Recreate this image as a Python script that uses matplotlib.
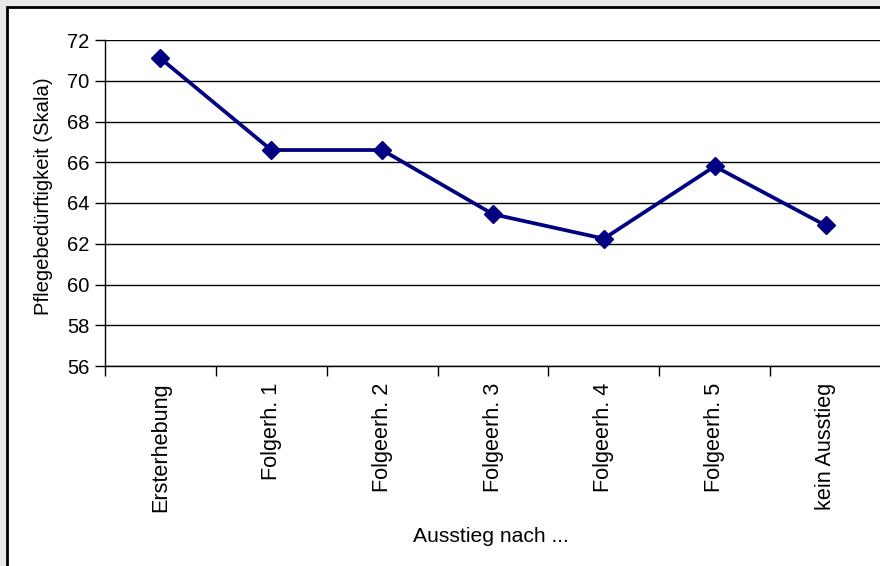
import matplotlib.pyplot as plt
from matplotlib.patches import Rectangle

plt.rcParams["font.family"] = ["Liberation Sans", "DejaVu Sans"]

categories = ["Ersterhebung", "Folgerh. 1", "Folgeerh. 2", "Folgeerh. 3",
              "Folgeerh. 4", "Folgeerh. 5", "kein Ausstieg"]
values = [71.1, 66.6, 66.6, 63.45, 62.25, 65.8, 62.9]
y_ticks = [56, 58, 60, 62, 64, 66, 68, 70, 72]

W, H = 880, 566
fig = plt.figure(figsize=(W / 100, H / 100), dpi=100)
fig.patch.set_facecolor("#e9e9e9")

# white chart area with black frame, cut off on right and bottom
frame = Rectangle((7 / W, -0.1), 1.2, 1 - 7 / H + 0.1, transform=fig.transFigure,
                  facecolor="white", edgecolor="black", linewidth=2, zorder=-10)
fig.patches.append(frame)

# plot area: x 105..881 px, y 40..366 px
ax = fig.add_axes([105 / W, 1 - 366 / H, (881 - 105) / W, (366 - 40) / H])
ax.set_facecolor("none")
x = list(range(len(categories)))
ax.plot(x, values, color="#000080", linewidth=2.7, marker="D",
        markersize=9, zorder=3, clip_on=False)

ax.set_xlim(-0.5, len(categories) - 0.5)
ax.set_ylim(56, 72)
ax.set_yticks(y_ticks)
ax.yaxis.grid(True, color="black", linewidth=1)
ax.set_axisbelow(True)

ax.set_xticks([i - 0.5 for i in range(len(categories) + 1)])
ax.set_xticklabels([])
ax.set_xticks(x, minor=True)
ax.set_xticklabels(categories, minor=True, rotation=90, fontsize=15.6,
                   va="top")
ax.tick_params(axis="x", which="minor", length=0, pad=12)
ax.tick_params(axis="x", which="major", length=7, width=1, direction="out")
ax.tick_params(axis="y", length=7, width=1, labelsize=14.5, pad=4)

for side in ["top", "right"]:
    ax.spines[side].set_visible(False)
ax.spines["left"].set_linewidth(1)
ax.spines["bottom"].set_linewidth(1)

ax.set_ylabel("Pflegebedürftigkeit (Skala)", fontsize=14.6)
ax.yaxis.set_label_coords(-52 / 776, 0.52)
fig.text(491 / W, 1 - 536 / H, "Ausstieg nach ...", fontsize=15.2,
         ha="center", va="center")

fig.savefig("out.png", dpi=100, facecolor=fig.get_facecolor())
